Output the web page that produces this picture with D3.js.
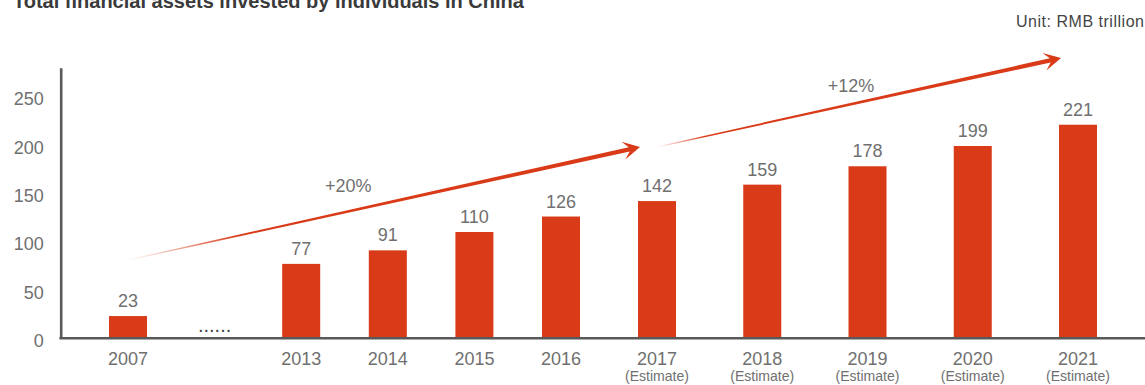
<!DOCTYPE html>
<html>
<head>
<meta charset="utf-8">
<script src="https://cdn.jsdelivr.net/npm/d3@7"></script>
<style>
    body { margin: 0; background: #fff; }
    svg { display: block; font-family: "Liberation Sans", Arial, sans-serif; }
</style>
</head>
<body>
<svg id="chart"></svg>
<script>
// Chart data
const historyYears = ['2007', 'gap', '2013', '2014', '2015', '2016'];
const historyValues = [23, null, 77, 91, 110, 126];
const estimateYears = ['2017', '2018', '2019', '2020', '2021'];
const estimateValues = [142, 159, 178, 199, 221];
const yTicks = [0, 50, 100, 150, 200, 250];
const estimateNote = '(Estimate)';
const gapLabel = '......';

// Growth annotations (value units on the y scale)
const growthLabels = ['+20%', '+12%'];
const growthFrom = ['2007', '2017'];
const growthTo = ['2017', '2021'];
const growthFromValue = [81, 198];
const growthToValue = [198, 290];

const titleText = 'Total financial assets invested by individuals in China';
const unitText = 'Unit: RMB trillion';

// Layout
const width = 1145, height = 385;
const red = '#d93a17';
const axisColor = '#595959';
const textColor = '#707070';
const barWidth = 38;

const svg = d3.select('#chart')
    .attr('width', width)
    .attr('height', height);

// Scales
const xHist = d3.scalePoint().domain(historyYears).range([128, 561]);
const xEst = d3.scalePoint().domain(estimateYears).range([657, 1078]);
const xPos = d => historyYears.includes(d) ? xHist(d) : xEst(d);

const y = d3.scaleLinear().domain([0, 280]).range([338.3, 67.7]);

// Title and unit
svg.append('text')
    .attr('x', 13)
    .attr('y', 8)
    .style('font-size', '20px')
    .style('font-weight', 'bold')
    .attr('fill', '#3a3a3a')
    .text(titleText);

svg.append('text')
    .attr('x', 1144)
    .attr('y', 27)
    .attr('text-anchor', 'end')
    .style('font-size', '16px')
    .attr('fill', '#444')
    .attr('textLength', 128)
    .attr('lengthAdjust', 'spacing')
    .text(unitText);

// Bars
const bars = historyYears.map((d, i) => ({ year: d, value: historyValues[i] }))
    .concat(estimateYears.map((d, i) => ({ year: d, value: estimateValues[i], estimate: true })))
    .filter(d => d.value !== null);

svg.selectAll('.bar')
    .data(bars)
    .enter()
    .append('rect')
    .attr('class', 'bar')
    .attr('x', d => xPos(d.year) - barWidth / 2)
    .attr('y', d => y(d.value))
    .attr('width', barWidth)
    .attr('height', d => y(0) - y(d.value))
    .attr('fill', red);

// Value labels
svg.selectAll('.value-label')
    .data(bars)
    .enter()
    .append('text')
    .attr('class', 'value-label')
    .attr('x', d => xPos(d.year))
    .attr('y', d => y(d.value) - 9)
    .attr('text-anchor', 'middle')
    .style('font-size', '18px')
    .attr('fill', textColor)
    .text(d => d.value);

// Gap dots
svg.append('text')
    .attr('x', xHist('gap'))
    .attr('y', y(0) - 6)
    .attr('text-anchor', 'middle')
    .style('font-size', '20px')
    .attr('fill', '#444')
    .text(gapLabel);

// Y axis
const yAxis = d3.axisLeft(y)
    .tickValues(yTicks)
    .tickSize(0)
    .tickSizeOuter(0)
    .tickPadding(17);

const gy = svg.append('g')
    .attr('transform', 'translate(60.7,0)')
    .call(yAxis);
gy.select('.domain').attr('stroke', axisColor).attr('stroke-width', 2.6);
gy.selectAll('text')
    .attr('dy', '0.45em')
    .style('font-size', '18px')
    .style('font-family', '"Liberation Sans", Arial, sans-serif')
    .attr('fill', textColor);

// X axis line
svg.append('line')
    .attr('x1', 59.4)
    .attr('x2', width)
    .attr('y1', y(0))
    .attr('y2', y(0))
    .attr('stroke', axisColor)
    .attr('stroke-width', 2.6);

// X labels
const xLabels = historyYears.filter(d => d !== 'gap').concat(estimateYears);
svg.selectAll('.x-label')
    .data(xLabels)
    .enter()
    .append('text')
    .attr('class', 'x-label')
    .attr('x', d => xPos(d))
    .attr('y', 365)
    .attr('text-anchor', 'middle')
    .style('font-size', '18px')
    .attr('fill', textColor)
    .text(d => d);

svg.selectAll('.x-note')
    .data(estimateYears)
    .enter()
    .append('text')
    .attr('class', 'x-note')
    .attr('x', d => xEst(d))
    .attr('y', 381)
    .attr('text-anchor', 'middle')
    .style('font-size', '15px')
    .attr('textLength', 64)
    .attr('lengthAdjust', 'spacingAndGlyphs')
    .attr('fill', textColor)
    .text(estimateNote);

// Growth arrows
const defs = svg.append('defs');
const tipOffset = 17;

growthLabels.forEach((label, i) => {
    const x0 = xPos(growthFrom[i]);
    const y0 = y(growthFromValue[i]);
    const x1 = xPos(growthTo[i]) - tipOffset;
    const y1 = y(growthToValue[i]);

    const grad = defs.append('linearGradient')
        .attr('id', 'arrow-grad-' + i)
        .attr('gradientUnits', 'userSpaceOnUse')
        .attr('x1', x0).attr('y1', y0)
        .attr('x2', x1).attr('y2', y1);
    grad.append('stop').attr('offset', 0).attr('stop-color', red).attr('stop-opacity', 0);
    grad.append('stop').attr('offset', i === 0 ? 0.22 : 0.12).attr('stop-color', red).attr('stop-opacity', 1);
    grad.append('stop').attr('offset', 1).attr('stop-color', red).attr('stop-opacity', 1);

    const dx = x1 - x0, dy = y1 - y0;
    const len = Math.sqrt(dx * dx + dy * dy);
    const ux = dx / len, uy = dy / len;
    const nx = -uy, ny = ux;
    const at = (back, side) => [x1 - ux * back + nx * side, y1 - uy * back + ny * side];
    const start = (side) => [x0 + nx * side, y0 + ny * side];

    const pts = [
        start(0.5), at(11, 2.2), at(17, 9), [x1, y1], at(17, -9), at(11, -2.2), start(-0.5)
    ];

    svg.append('path')
        .attr('d', d3.line()(pts) + 'Z')
        .attr('fill', 'url(#arrow-grad-' + i + ')');

    // label above the shaft
    const t = i === 0 ? 0.43 : 0.48;
    svg.append('text')
        .attr('x', x0 + dx * t)
        .attr('y', y0 + dy * t - (i === 0 ? 19 : 12))
        .attr('text-anchor', 'middle')
        .style('font-size', '18px')
        .attr('fill', textColor)
        .text(label);
});
</script>
</body>
</html>
